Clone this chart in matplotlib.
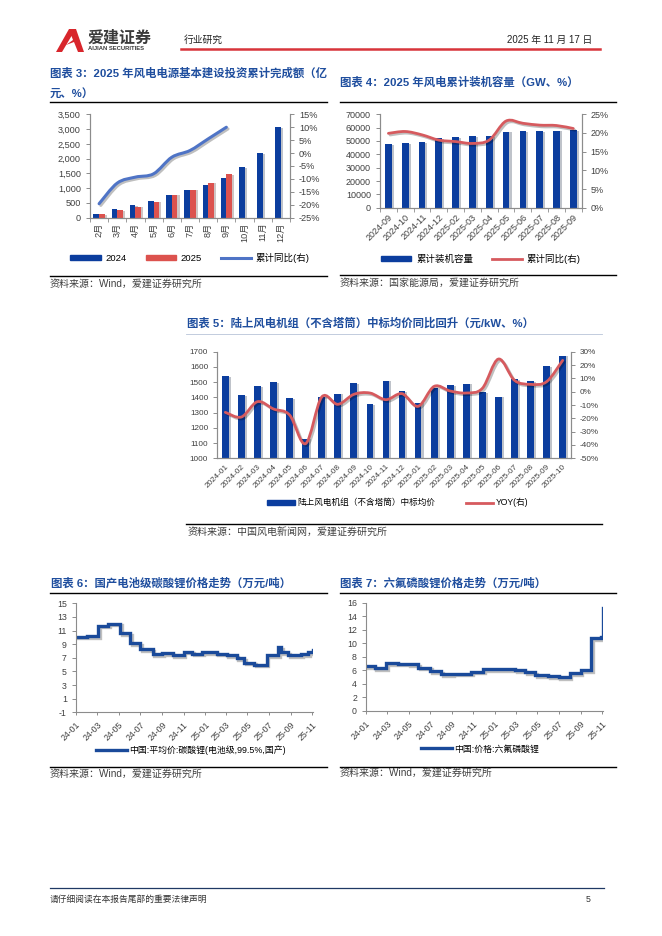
import numpy as np
import pandas as pd
import matplotlib
matplotlib.use("Agg")
import matplotlib.pyplot as plt
import matplotlib.path as mpath
import matplotlib.patches as mpatches
import matplotlib.patheffects as pe
from matplotlib.lines import Line2D

plt.rcParams['font.family'] = ['Liberation Sans', 'Noto Sans CJK SC', 'DejaVu Sans']
plt.rcParams['axes.unicode_minus'] = False

# ---------- données ----------
# graphique 3 : investissement cumulé (亿元)
c3_months = ["2月", "3月", "4月", "5月", "6月", "7月", "8月", "9月", "10月", "11月", "12月"]
c3_2024 = [140, 300, 420, 570, 780, 950, 1100, 1350, 1710, 2180, 3070]
c3_2025 = [110, 260, 370, 540, 780, 950, 1190, 1480]
c3_yoy = [-19.6, -11.6, -9.3, -8.0, -1.6, 1.0, 5.5, 10.0]

# graphique 4 : capacité installée cumulée
c4_months = ["2024-09", "2024-10", "2024-11", "2024-12", "2025-02", "2025-03",
             "2025-04", "2025-05", "2025-06", "2025-07", "2025-08", "2025-09"]
c4_cap = [47750, 48250, 49250, 52000, 52750, 53500, 53750, 57000, 57250, 57500, 57750, 58250]
c4_yoy = [19.9, 20.4, 19.5, 18.1, 17.7, 17.2, 18.1, 23.2, 22.6, 22.1, 22.0, 21.2]

# graphique 5 : prix moyen des éoliennes terrestres
c5_months = ["2024-01", "2024-02", "2024-03", "2024-04", "2024-05", "2024-06", "2024-07",
             "2024-08", "2024-09", "2024-10", "2024-11", "2024-12", "2025-01", "2025-02",
             "2025-03", "2025-04", "2025-05", "2025-06", "2025-07", "2025-08", "2025-09", "2025-10"]
c5_price = [1540, 1415, 1475, 1500, 1395, 1130, 1405, 1425, 1495, 1355, 1510,
            1440, 1365, 1460, 1480, 1490, 1435, 1405, 1520, 1505, 1605, 1675]
c5_yoy = [-15.5, -19, -7.5, -13, -17.5, -39, -4, -9.5, -2, -1, -6,
          -1.5, -11, 4, 0.5, -1, 2.5, 24.5, 8.5, 5.5, 7.5, 23.5]

# graphique 6 : carbonate de lithium (万元/吨), changements de palier
c6_dates = ["2024-01-01", "2024-02-01", "2024-03-04", "2024-04-01", "2024-05-06", "2024-06-03",
            "2024-07-01", "2024-08-05", "2024-09-02", "2024-10-01", "2024-11-01", "2024-11-25",
            "2024-12-23", "2025-02-03", "2025-03-03", "2025-04-01", "2025-04-21", "2025-05-20",
            "2025-06-25", "2025-07-28", "2025-08-04", "2025-08-25", "2025-09-30", "2025-10-20",
            "2025-11-03"]
c6_vals = [10.1, 10.2, 11.7, 12.0, 10.6, 9.1, 8.3, 7.5, 7.7, 7.4, 7.9, 7.6,
           7.8, 7.6, 7.4, 6.9, 6.3, 6.0, 7.4, 8.6, 7.8, 7.4, 7.5, 7.8, 8.1]

# graphique 7 : hexafluorophosphate de lithium (万元/吨)
c7_dates = ["2024-01-01", "2024-01-26", "2024-02-28", "2024-04-01", "2024-05-01", "2024-05-28",
            "2024-07-01", "2024-08-01", "2024-09-01", "2024-10-25", "2024-11-28", "2025-02-28",
            "2025-03-28", "2025-04-25", "2025-06-01", "2025-07-01", "2025-08-01", "2025-09-01",
            "2025-10-01", "2025-10-28", "2025-11-03"]
c7_vals = [6.6, 6.3, 7.1, 7.0, 6.9, 6.4, 5.9, 5.4, 5.5, 5.8, 6.2, 6.0,
           5.7, 5.3, 5.1, 5.0, 5.6, 6.0, 10.8, 11.0, 15.2]

# ---------- style ----------
W, H = 662, 936
BLUE = "#0B3D9E"
RED = "#DC524E"
LBLUE = "#4F74C6"
LRED = "#D65A5E"
TITLE = "#1F4E9E"
SPINE = "#8C8C8C"
TXT = "#404040"

fig = plt.figure(figsize=(W / 100, H / 100), dpi=100)


def fx(x):
    return x / W


def fy(y):
    return 1 - y / H


def px_axes(x0, y0, x1, y1):
    return fig.add_axes([fx(x0), fy(y1), (x1 - x0) / W, (y1 - y0) / H])


def hline(x0, x1, y, color="black", lw=1.0):
    fig.add_artist(Line2D([fx(x0), fx(x1)], [fy(y), fy(y)], transform=fig.transFigure,
                          color=color, lw=lw))


def ftext(x, y, s, **kw):
    kw.setdefault("va", "center")
    fig.text(fx(x), fy(y), s, **kw)


def smooth_path(ax, x, y, color, lw):
    # courbe lissée (bezier) passant par les points, comme une courbe Excel lissée
    pts = np.column_stack([x, y]).astype(float)
    n = len(pts)
    verts = [pts[0]]
    codes = [mpath.Path.MOVETO]
    for i in range(n - 1):
        p0 = pts[i - 1] if i > 0 else pts[i]
        p1 = pts[i]
        p2 = pts[i + 1]
        p3 = pts[i + 2] if i + 2 < n else pts[i + 1]
        c1 = p1 + (p2 - p0) / 6
        c2 = p2 - (p3 - p1) / 6
        verts += [c1, c2, p2]
        codes += [mpath.Path.CURVE4] * 3
    patch = mpatches.PathPatch(mpath.Path(verts, codes), fill=False, edgecolor=color, lw=lw,
                               capstyle="round", joinstyle="round", zorder=5)
    patch.set_path_effects([pe.SimpleLineShadow(offset=(1.2, -1.2), alpha=0.25), pe.Normal()])
    ax.add_patch(patch)


def style_axes(ax, right=None, fs=6.5):
    for a in [ax] + ([right] if right is not None else []):
        a.spines["top"].set_visible(False)
        for s in ["left", "right", "bottom"]:
            a.spines[s].set_color(SPINE)
            a.spines[s].set_linewidth(0.8)
        a.tick_params(axis="both", labelsize=fs, colors=TXT, length=3, width=0.7, color=SPINE)
    if right is None:
        ax.spines["right"].set_visible(False)


bar_shadow = [pe.SimplePatchShadow(offset=(1.5, -0.5), alpha=0.25), pe.Normal()]

# ---------- en-tête ----------
logo = mpatches.Polygon([(fx(56), fy(52)), (fx(69), fy(29)), (fx(76), fy(29)), (fx(84), fy(52)),
                         (fx(78), fy(52)), (fx(74), fy(42)), (fx(66), fy(45)), (fx(73), fy(40)),
                         (fx(71.5), fy(36)), (fx(62), fy(52))],
                        closed=True, transform=fig.transFigure, facecolor="#D8262C", edgecolor="none")
fig.add_artist(logo)
ftext(88, 38.5, "爱建证券", fontsize=11.5, fontweight="bold", color="#3A3A3A")
ftext(88, 49, "AIJIAN SECURITIES", fontsize=4.2, fontweight="bold", color="#3A3A3A")
ftext(184, 40, "行业研究", fontsize=7, color="#222222")
ftext(592, 40, "2025 年 11 月 17 日", fontsize=7, color="#222222", ha="right")
hline(181, 600, 49, color="#D8343A", lw=1.8)

# ---------- graphique 3 ----------
ftext(50, 73, "图表 3：2025 年风电电源基本建设投资累计完成额（亿", fontsize=8.2,
      fontweight="bold", color=TITLE)
ftext(50, 93, "元、%）", fontsize=8.2, fontweight="bold", color=TITLE)
hline(50, 327, 101.7)
ax3 = px_axes(90, 114.3, 290, 217.7)
x3 = np.arange(len(c3_months))
bw = 0.31
b1 = ax3.bar(x3 - bw / 2, c3_2024, width=bw, color=BLUE, zorder=2)
b2 = ax3.bar(x3[:len(c3_2025)] + bw / 2, c3_2025, width=bw, color=RED, zorder=2)
for b in list(b1) + list(b2):
    b.set_path_effects(bar_shadow)
ax3.set_ylim(0, 3500)
ax3.set_yticks(np.arange(0, 3501, 500))
ax3.yaxis.set_major_formatter(matplotlib.ticker.FuncFormatter(lambda v, p: f"{int(v):,}"))
ax3.set_xlim(-0.5, len(c3_months) - 0.5)
ax3.set_xticks(x3)
ax3.set_xticklabels(c3_months, rotation=90)
ax3.set_xticks(np.arange(-0.5, len(c3_months), 1), minor=True)
ax3r = ax3.twinx()
ax3r.set_ylim(-25, 15)
ax3r.set_yticks(np.arange(-25, 16, 5))
ax3r.yaxis.set_major_formatter(matplotlib.ticker.FuncFormatter(lambda v, p: f"{int(v)}%"))
smooth_path(ax3r, x3[:len(c3_yoy)], c3_yoy, LBLUE, 2.2)
style_axes(ax3, ax3r, fs=6.6)
ax3.tick_params(axis="x", which="major", length=0)
ax3.tick_params(axis="x", which="minor", length=3, color=SPINE)
h3 = [mpatches.Patch(color=BLUE), mpatches.Patch(color=RED), Line2D([], [], color=LBLUE, lw=2.2)]
fig.legend(h3, ["2024", "2025", "累计同比(右)"], loc="center", bbox_to_anchor=(fx(190), fy(257.7)),
           ncol=3, frameon=False, fontsize=6.8, handlelength=3.2, handleheight=0.5,
           columnspacing=2.0, handletextpad=0.5)
hline(50, 327, 276)
ftext(50, 283.5, "资料来源：Wind，爱建证券研究所", fontsize=7.2, color=TXT)

# ---------- graphique 4 ----------
ftext(340, 82, "图表 4：2025 年风电累计装机容量（GW、%）", fontsize=8.2, fontweight="bold", color=TITLE)
hline(340, 616, 101.7)
ax4 = px_axes(380, 114.3, 581.7, 207.7)
x4 = np.arange(len(c4_months))
b4 = ax4.bar(x4, c4_cap, width=0.4, color=BLUE, zorder=2)
for b in b4:
    b.set_path_effects(bar_shadow)
ax4.set_ylim(0, 70000)
ax4.set_yticks(np.arange(0, 70001, 10000))
ax4.set_xlim(-0.5, len(c4_months) - 0.5)
ax4.set_xticks(x4)
ax4.set_xticklabels(c4_months, rotation=45, ha="right", rotation_mode="anchor")
ax4.set_xticks(np.arange(-0.5, len(c4_months), 1), minor=True)
ax4r = ax4.twinx()
ax4r.set_ylim(0, 25)
ax4r.set_yticks(np.arange(0, 26, 5))
ax4r.yaxis.set_major_formatter(matplotlib.ticker.FuncFormatter(lambda v, p: f"{int(v)}%"))
smooth_path(ax4r, x4, c4_yoy, LRED, 2.0)
style_axes(ax4, ax4r, fs=6.5)
ax4.tick_params(axis="x", which="major", length=0)
ax4.tick_params(axis="x", which="minor", length=3, color=SPINE)
h4 = [mpatches.Patch(color=BLUE), Line2D([], [], color=LRED, lw=2.0)]
fig.legend(h4, ["累计装机容量", "累计同比(右)"], loc="center", bbox_to_anchor=(fx(481), fy(259)),
           ncol=2, frameon=False, fontsize=6.8, handlelength=3.2, handleheight=0.5,
           columnspacing=2.0, handletextpad=0.5)
hline(340, 616, 275)
ftext(340, 282.5, "资料来源：国家能源局，爱建证券研究所", fontsize=7.2, color=TXT)

# ---------- graphique 5 ----------
ftext(187, 323, "图表 5：陆上风电机组（不含塔筒）中标均价同比回升（元/kW、%）", fontsize=8.2,
      fontweight="bold", color=TITLE)
hline(186, 602, 334, color="#B8C4D8", lw=0.6)
ax5 = px_axes(217.3, 351.7, 570.7, 458.3)
x5 = np.arange(len(c5_months))
b5 = ax5.bar(x5, c5_price, width=0.42, color=BLUE, zorder=2)
for b in b5:
    b.set_path_effects(bar_shadow)
ax5.set_ylim(1000, 1700)
ax5.set_yticks(np.arange(1000, 1701, 100))
ax5.set_xlim(-0.5, len(c5_months) - 0.5)
ax5.set_xticks(x5)
ax5.set_xticklabels(c5_months, rotation=45, ha="right", rotation_mode="anchor")
ax5r = ax5.twinx()
ax5r.set_ylim(-50, 30)
ax5r.set_yticks(np.arange(-50, 31, 10))
ax5r.yaxis.set_major_formatter(matplotlib.ticker.FuncFormatter(lambda v, p: f"{int(v)}%"))
smooth_path(ax5r, x5, c5_yoy, LRED, 2.0)
style_axes(ax5, ax5r, fs=5.9)
ax5.tick_params(axis="x", which="major", length=0)
h5 = [mpatches.Patch(color=BLUE), Line2D([], [], color=LRED, lw=2.0)]
fig.legend(h5, ["陆上风电机组（不含塔筒）中标均价", "YOY(右)"], loc="center",
           bbox_to_anchor=(fx(398), fy(502.7)), ncol=2, frameon=False, fontsize=6.2,
           handlelength=3.2, handleheight=0.5, columnspacing=3.5, handletextpad=0.3)
hline(186, 602, 524.3)
ftext(188, 533, "资料来源：中国风电新闻网，爱建证券研究所", fontsize=7.2, color=TXT)


# ---------- graphiques 6 et 7 ----------
def price_chart(ax, dates, vals, ymin, ymax, step):
    d = pd.to_datetime(dates)
    ax.plot(d, vals, drawstyle="steps-post", color="#1A4A9A", lw=2.4, solid_joinstyle="miter",
            path_effects=[pe.SimpleLineShadow(offset=(1.2, -1.2), alpha=0.25), pe.Normal()])
    ax.set_xlim(d[0], d[-1])
    ax.set_ylim(ymin, ymax)
    ax.set_yticks(np.arange(ymin, ymax + 0.1, step))
    ticks = pd.date_range("2024-01-01", "2025-11-01", freq="2MS")
    ax.set_xticks(ticks)
    ax.set_xticklabels([t.strftime("%y-%m") for t in ticks], rotation=45, ha="right",
                       rotation_mode="anchor")
    style_axes(ax, fs=6.3)
    ax.tick_params(axis="x", length=2.5)


ftext(51, 583.3, "图表 6：国产电池级碳酸锂价格走势（万元/吨）", fontsize=8.2, fontweight="bold", color=TITLE)
hline(50, 327, 592.7)
ax6 = px_axes(76, 603.3, 313, 712.3)
price_chart(ax6, c6_dates, c6_vals, -1, 15, 2)
fig.legend([Line2D([], [], color="#1A4A9A", lw=2.4)], ["中国:平均价:碳酸锂(电池级,99.5%,国产)"],
           loc="center", bbox_to_anchor=(fx(191), fy(750)), frameon=False, fontsize=6.4,
           handlelength=3.5, handletextpad=0.2)
hline(50, 327, 766.7)
ftext(50, 774, "资料来源：Wind，爱建证券研究所", fontsize=7.2, color=TXT)

ftext(340, 583.3, "图表 7：六氟磷酸锂价格走势（万元/吨）", fontsize=8.2, fontweight="bold", color=TITLE)
hline(340, 616, 592.7)
ax7 = px_axes(366, 602.7, 602.7, 711)
price_chart(ax7, c7_dates, c7_vals, 0, 16, 2)
fig.legend([Line2D([], [], color="#1A4A9A", lw=2.4)], ["中国:价格:六氟磷酸锂"],
           loc="center", bbox_to_anchor=(fx(480), fy(749)), frameon=False, fontsize=6.4,
           handlelength=3.5, handletextpad=0.2)
hline(340, 616, 766.7)
ftext(340, 773, "资料来源：Wind，爱建证券研究所", fontsize=7.2, color=TXT)

# ---------- pied de page ----------
hline(50, 604, 888, color="#1F3864", lw=0.9)
ftext(50, 899, "请仔细阅读在本报告尾部的重要法律声明", fontsize=6.3, color="#333333")
ftext(591, 899, "5", fontsize=6.3, color="#333333", ha="right")

fig.savefig("out.png", dpi=100)
